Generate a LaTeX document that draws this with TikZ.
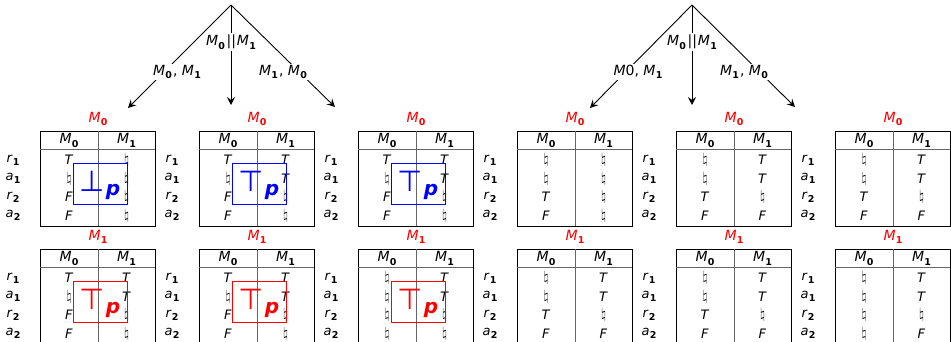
\documentclass[tikz,border=0pt]{standalone}
\usepackage{fontspec}
\setmainfont{DejaVu Sans}
\usetikzlibrary{arrows.meta}
\newcommand{\sbs}[2]{\textit{#1}\kern0.3pt\raisebox{-0.45ex}{\fontsize{9.5}{9.5}\selectfont\bfseries #2}}
\newcommand{\cT}{\textit{T}}
\newcommand{\cF}{\textit{F}}
\newcommand{\cN}{{\fontsize{14}{14}\selectfont$\natural$}}
\tikzset{
  treearrow/.style={line width=0.9pt, black, -{Stealth[length=8pt,width=8pt,inset=3pt]}},
  lbl/.style={font=\fontsize{14}{14}\selectfont, inner sep=1.5pt, fill=white},
  ttl/.style={font=\fontsize{14}{14}\selectfont, text=red, inner sep=0pt},
  hdr/.style={font=\fontsize{14}{14}\selectfont, inner sep=0pt},
  cell/.style={font=\fontsize{13}{13}\selectfont, inner sep=0pt},
  rowlbl/.style={font=\fontsize{13}{13}\selectfont, inner sep=0pt},
  outer/.style={line width=0.8pt, black},
  inner/.style={line width=1pt, black!60},
  pbox/.style={line width=1.2pt, inner sep=0pt, minimum width=54pt, minimum height=41pt, anchor=north west},
  bigsym/.style={font=\fontsize{29}{29}\selectfont, inner sep=0pt},
  psym/.style={font=\fontsize{20}{20}\selectfont\bfseries\itshape, inner sep=0pt},
}
% #1 name, #2 left, #3 top, #4 title, #5 col1 entries, #6 col2 entries
\newcommand{\mktable}[6]{%
  \node[ttl] (#1t) at (#2+58,#3-12) {#4};
  \draw[outer] (#2,#3) rectangle (#2+115,#3+95);
  \draw[inner] (#2,#3+18) -- (#2+115,#3+18);
  \draw[inner] (#2+58,#3) -- (#2+58,#3+95);
  \node[hdr] (#1h0) at (#2+29,#3+9.5) {\sbs{M}{0}};
  \node[hdr] (#1h1) at (#2+86.5,#3+9.5) {\sbs{M}{1}};
  \foreach \v [count=\i] in {\sbs{r}{1},\sbs{a}{1},\sbs{r}{2},\sbs{a}{2}}
    {\node[rowlbl] (#1r\i) at (#2-27,#3+10.5+18.5*\i) {\v};}
  \foreach \v [count=\i] in {#5}
    {\node[cell] (#1a\i) at (#2+29,#3+10.5+18.5*\i) {\v};}
  \foreach \v [count=\i] in {#6}
    {\node[cell] (#1b\i) at (#2+86.5,#3+10.5+18.5*\i) {\v};}
}
% #1 name, #2 left, #3 top, #4 colour, #5 symbol
\newcommand{\mkbox}[5]{%
  \node[pbox, draw=#4] (#1box) at (#2+33,#3+32) {};
  \node[bigsym, text=#4] (#1sym) at (#2+52,#3+50) {#5};
  \node[psym, text=#4] (#1p) at (#2+73,#3+61) {p};
}
\begin{document}
\begin{tikzpicture}[x=1pt,y=-1pt]
\useasboundingbox (0,0) rectangle (951,341);
% left tree
\coordinate (apexL) at (231,5);
\coordinate (endLl) at (128,108);
\coordinate (endLm) at (231,105);
\coordinate (endLr) at (335,107);
\draw[treearrow] (apexL) -- (endLl);
\draw[treearrow] (apexL) -- (endLm);
\draw[treearrow] (apexL) -- (endLr);
\node[lbl] (parL) at (231,42) {\sbs{M}{0}\kern1.5pt||\kern1pt\sbs{M}{1}};
\node[lbl] (leftL) at (177,72) {\sbs{M}{0}\kern1pt, \sbs{M}{1}};
\node[lbl] (rightL) at (283,72) {\sbs{M}{1}\kern1pt, \sbs{M}{0}};
% right tree
\coordinate (apexR) at (692,5);
\coordinate (endRl) at (590,108);
\coordinate (endRm) at (692,105);
\coordinate (endRr) at (795,107);
\draw[treearrow] (apexR) -- (endRl);
\draw[treearrow] (apexR) -- (endRm);
\draw[treearrow] (apexR) -- (endRr);
\node[lbl] (parR) at (692,42) {\sbs{M}{0}\kern1.5pt||\kern1pt\sbs{M}{1}};
\node[lbl] (leftR) at (638,72) {\textit{M}0, \sbs{M}{1}};
\node[lbl] (rightR) at (744,72) {\sbs{M}{1}\kern1pt, \sbs{M}{0}};
% top tables
\mktable{ta}{40}{131}{\sbs{M}{0}}{\cT,\cN,\cF,\cF}{\cN,\cN,\cN,\cN}
\mktable{tb}{199}{131}{\sbs{M}{0}}{\cT,\cN,\cF,\cF}{\cT,\cT,\cN,\cN}
\mktable{tc}{358}{131}{\sbs{M}{0}}{\cT,\cN,\cF,\cF}{\cT,\cT,\cN,\cN}
\mktable{td}{517}{131}{\sbs{M}{0}}{\cN,\cN,\cT,\cF}{\cN,\cN,\cN,\cN}
\mktable{te}{676}{131}{\sbs{M}{0}}{\cN,\cN,\cT,\cF}{\cT,\cT,\cN,\cF}
\mktable{tf}{835}{131}{\sbs{M}{0}}{\cN,\cN,\cT,\cF}{\cT,\cT,\cN,\cF}
% bottom tables
\mktable{ba}{40}{249}{\sbs{M}{1}}{\cT,\cN,\cF,\cF}{\cT,\cT,\cN,\cN}
\mktable{bb}{199}{249}{\sbs{M}{1}}{\cT,\cN,\cF,\cF}{\cT,\cT,\cN,\cN}
\mktable{bc}{358}{249}{\sbs{M}{1}}{\cN,\cN,\cN,\cN}{\cT,\cT,\cN,\cN}
\mktable{bd}{517}{249}{\sbs{M}{1}}{\cN,\cN,\cT,\cF}{\cT,\cT,\cN,\cF}
\mktable{be}{676}{249}{\sbs{M}{1}}{\cN,\cN,\cT,\cF}{\cT,\cT,\cN,\cF}
\mktable{bf}{835}{249}{\sbs{M}{1}}{\cN,\cN,\cN,\cN}{\cT,\cT,\cN,\cF}
% boxes
\mkbox{ta}{40}{131}{blue}{⊥}
\mkbox{tb}{199}{131}{blue}{⊤}
\mkbox{tc}{358}{131}{blue}{⊤}
\mkbox{ba}{40}{249}{red}{⊤}
\mkbox{bb}{199}{249}{red}{⊤}
\mkbox{bc}{358}{249}{red}{⊤}
\end{tikzpicture}
\end{document}
